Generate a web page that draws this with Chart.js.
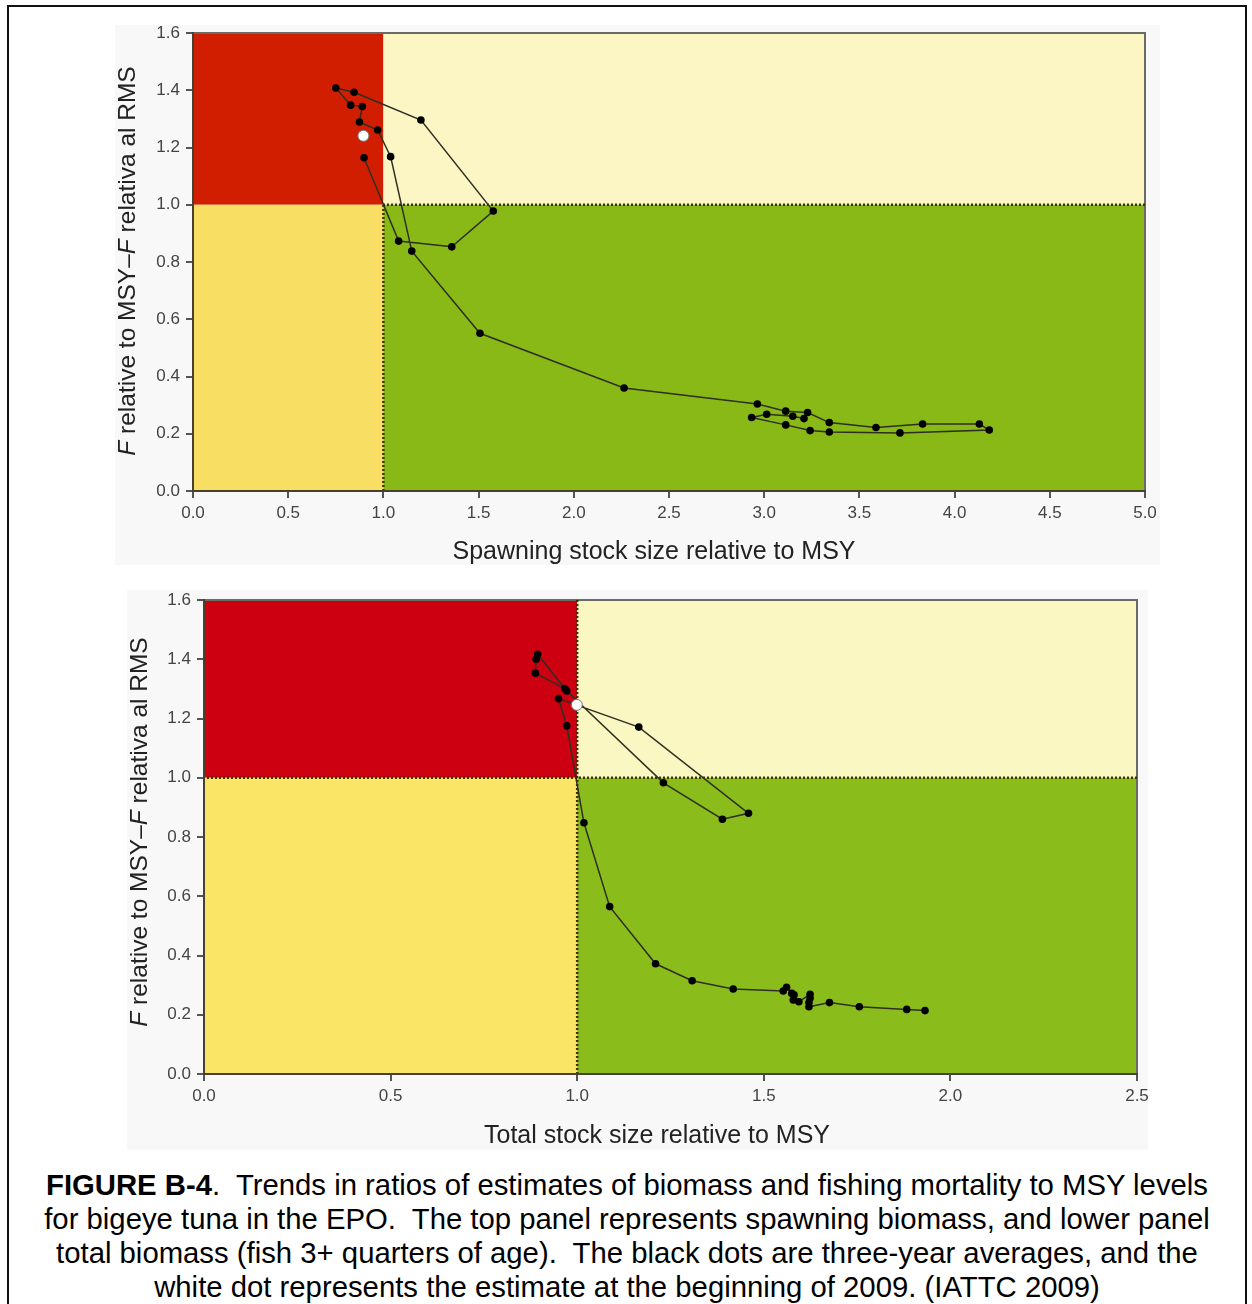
<!DOCTYPE html>
<html>
<head>
<meta charset="utf-8">
<script src="https://cdn.jsdelivr.net/npm/chart.js@4.4.1/dist/chart.umd.min.js"></script>
<style>
  body { margin: 0; background: #fff; font-family: 'Liberation Sans', Arial, sans-serif; }
  #frame { position: absolute; left: 7px; top: 5px; width: 1236px; height: 1320px; border: 2px solid #111; }
  .panel { position: absolute; background: #f8f8f8; }
  .panel canvas { position: absolute; left: 0; top: 0; }
  #caption { position: absolute; left: 9px; width: 1236px; top: 1168px; text-align: center;
             font-size: 29.3px; line-height: 34px; color: #000; white-space: nowrap; }
</style>
</head>
<body>
<div id="frame"></div>
<div class="panel" style="left:115px;top:25px;width:1045px;height:540px;">
  <canvas id="chartSpawning" width="1045" height="540"></canvas>
</div>
<div class="panel" style="left:127px;top:590px;width:1021px;height:560px;">
  <canvas id="chartTotal" width="1021" height="560"></canvas>
</div>
<div id="caption">
  <b>FIGURE B-4</b>.&nbsp; Trends in ratios of estimates of biomass and fishing mortality to MSY levels<br>
  for bigeye tuna in the EPO.&nbsp; The top panel represents spawning biomass, and lower panel<br>
  total biomass (fish 3+ quarters of age).&nbsp; The black dots are three-year averages, and the<br>
  white dot represents the estimate at the beginning of 2009. (IATTC 2009)
</div>

<script>
// ── Data: ratios to MSY levels (three-year averages, oldest first) ──
const spawningB = [3.209, 3.150, 3.013, 2.934, 3.113, 3.241, 3.342, 3.713, 4.182, 4.130, 3.832,
                   3.587, 3.342, 3.228, 3.113, 2.964, 2.264, 1.507, 1.149, 1.038, 0.970, 0.874,
                   0.889, 0.828, 0.750, 0.846, 1.197, 1.577, 1.359, 1.080, 0.898];
const spawningF = [0.253, 0.261, 0.268, 0.257, 0.231, 0.211, 0.206, 0.203, 0.213, 0.234, 0.234,
                   0.222, 0.239, 0.274, 0.279, 0.304, 0.360, 0.551, 0.838, 1.168, 1.261, 1.289,
                   1.343, 1.348, 1.408, 1.393, 1.296, 0.978, 0.853, 0.873, 1.164];
const spawningNow = { b: 0.895, f: 1.241 };

const totalB = [1.932, 1.883, 1.756, 1.676, 1.621, 1.621, 1.624, 1.624, 1.594, 1.579, 1.581,
                1.575, 1.561, 1.552, 1.418, 1.308, 1.210, 1.087, 1.018, 0.972, 0.950, 1.165,
                1.459, 1.389, 1.231, 0.972, 0.894, 0.890, 0.888, 0.967];
const totalF = [0.214, 0.218, 0.227, 0.241, 0.227, 0.241, 0.256, 0.269, 0.244, 0.250, 0.267,
                0.272, 0.293, 0.280, 0.287, 0.315, 0.372, 0.565, 0.848, 1.175, 1.267, 1.171,
                0.880, 0.860, 0.983, 1.293, 1.417, 1.400, 1.353, 1.301];
const totalNow = { b: 0.999, f: 1.246 };

// MSY reference level on both axes
const REF_B = 1.0;
const REF_F = 1.0;

const FONT = "'Liberation Sans', Arial, sans-serif";
Chart.defaults.font.family = FONT;

const toPoints = (xs, ys) => xs.map((v, i) => ({ x: v, y: ys[i] }));

// ── Kobe-style quadrants, dotted MSY lines, frame and axis titles ──
const zonePlugin = {
  id: 'zones',
  beforeDraw(chart, args, opts) {
    const { ctx, chartArea: a, scales: { x, y } } = chart;
    const bx = x.getPixelForValue(REF_B);
    const fy = y.getPixelForValue(REF_F);
    const fill = (c, l, t, r, b) => { ctx.fillStyle = c; ctx.fillRect(l, t, r - l, b - t); };
    ctx.save();
    fill(opts.colors[0], a.left, a.top, bx, fy);
    fill(opts.colors[1], bx, a.top, a.right, fy);
    fill(opts.colors[2], a.left, fy, bx, a.bottom);
    fill(opts.colors[3], bx, fy, a.right, a.bottom);

    ctx.strokeStyle = '#6a6a66';
    ctx.lineWidth = 2;
    ctx.strokeRect(a.left, a.top, a.right - a.left, a.bottom - a.top);

    ctx.setLineDash([2, 2]);
    ctx.strokeStyle = '#3d3200';
    ctx.lineWidth = 2.5;
    ctx.beginPath();
    ctx.moveTo(bx, a.bottom);
    ctx.lineTo(bx, opts.fullLines ? a.top : fy);
    ctx.moveTo(a.right, fy);
    ctx.lineTo(opts.fullLines ? a.left : bx, fy);
    ctx.stroke();
    ctx.restore();
  },
  afterDraw(chart, args, opts) {
    const { ctx } = chart;
    ctx.save();
    ctx.fillStyle = '#222';
    ctx.textBaseline = 'middle';

    // x title
    ctx.font = '25px ' + FONT;
    ctx.textAlign = 'center';
    ctx.fillText(opts.xTitle, opts.xTitleX, opts.xTitleY);

    // y title, with italic F
    const parts = [
      { t: 'F', it: true }, { t: ' relative to MSY\u2013' },
      { t: 'F', it: true }, { t: ' relativa al RMS' }
    ];
    const font = it => (it ? 'italic ' : '') + '24.5px ' + FONT;
    let w = 0;
    parts.forEach(p => { ctx.font = font(p.it); p.w = ctx.measureText(p.t).width; w += p.w; });
    ctx.translate(opts.yTitleX, opts.yTitleY);
    ctx.rotate(-Math.PI / 2);
    ctx.textAlign = 'left';
    let cx = -w / 2;
    parts.forEach(p => { ctx.font = font(p.it); ctx.fillText(p.t, cx, 0); cx += p.w; });
    ctx.restore();
  }
};

function makeScales(xMax, xHeight, yWidth) {
  const tickFont = { size: 17 };
  return {
    x: {
      type: 'linear', min: 0, max: xMax,
      ticks: { stepSize: 0.5, autoSkip: false, maxRotation: 0, color: '#444', font: tickFont, padding: 5,
               callback: v => v.toFixed(1) },
      grid: { drawOnChartArea: false, tickLength: 7, color: '#555', lineWidth: 2 },
      border: { color: '#4a4030', width: 2 },
      afterFit: s => { s.height = xHeight; s.paddingLeft = 0; s.paddingRight = 0; }
    },
    y: {
      type: 'linear', min: 0, max: 1.6,
      ticks: { stepSize: 0.2, autoSkip: false, color: '#444', font: tickFont, padding: 6,
               callback: v => v.toFixed(1) },
      grid: { drawOnChartArea: false, tickLength: 7, color: '#555', lineWidth: 2 },
      border: { color: '#4a4030', width: 2 },
      afterFit: s => { s.width = yWidth; s.paddingTop = 0; s.paddingBottom = 0; }
    }
  };
}

function makeDatasets(xs, ys, now) {
  return [
    {
      label: 'Current',
      data: [{ x: now.b, y: now.f }],
      pointRadius: 5.5, pointBackgroundColor: '#ffffff',
      pointBorderColor: '#777', pointBorderWidth: 1, showLine: false
    },
    {
      label: 'Three-year averages',
      data: toPoints(xs, ys),
      showLine: true, borderColor: '#2e2e22', borderWidth: 1.5,
      pointRadius: 3.8, pointBackgroundColor: '#000', pointBorderColor: '#000', pointBorderWidth: 0
    }
  ];
}

function initKobeChart(canvasId, xs, ys, now, cfg) {
  const ctx = document.getElementById(canvasId);
  if (!ctx) return;
  return new Chart(ctx, {
    type: 'scatter',
    data: { datasets: makeDatasets(xs, ys, now) },
    options: {
      responsive: false, animation: false,
      layout: { padding: cfg.padding },
      plugins: {
        legend: { display: false }, tooltip: { enabled: false },
        zones: {
          colors: cfg.colors, fullLines: cfg.fullLines,
          xTitle: cfg.xTitle, xTitleX: cfg.xTitleX, xTitleY: cfg.xTitleY,
          yTitleX: cfg.yTitleX, yTitleY: cfg.yTitleY
        }
      },
      scales: makeScales(cfg.xMax, cfg.xHeight, cfg.yWidth)
    },
    plugins: [zonePlugin]
  });
}

initKobeChart('chartSpawning', spawningB, spawningF, spawningNow, {
  xMax: 5, xTitle: 'Spawning stock size relative to MSY',
  xHeight: 74, yWidth: 78,
  xTitleX: 539, xTitleY: 527, yTitleX: 13, yTitleY: 236,
  padding: { left: 0, right: 15, top: 8, bottom: 0 },
  colors: ['#d21e00', '#fbf6c4', '#f8de63', '#88b916'],
  fullLines: false
});

initKobeChart('chartTotal', totalB, totalF, totalNow, {
  xMax: 2.5, xTitle: 'Total stock size relative to MSY',
  xHeight: 76, yWidth: 77,
  xTitleX: 530, xTitleY: 546, yTitleX: 13, yTitleY: 242,
  padding: { left: 0, right: 11, top: 10, bottom: 0 },
  colors: ['#cc0011', '#fbf7c3', '#fae566', '#8abd1c'],
  fullLines: true
});
</script>
</body>
</html>
